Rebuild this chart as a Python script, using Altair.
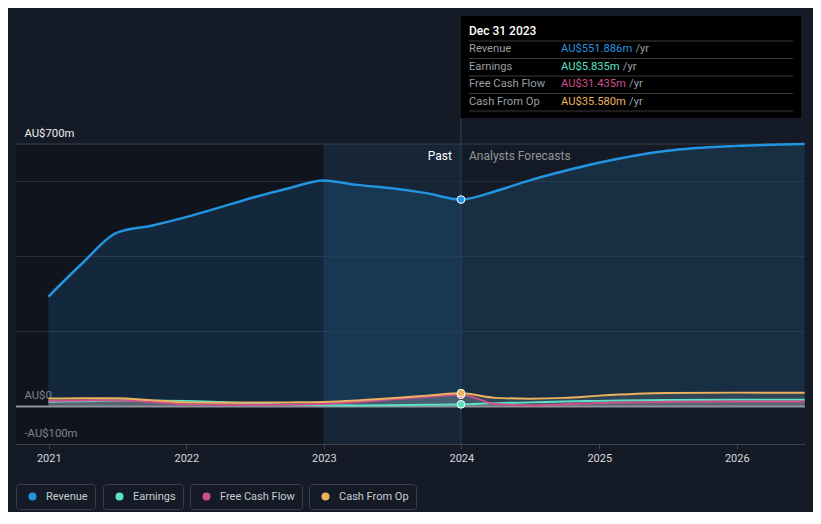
import altair as alt
import pandas as pd

# ---------------- data ----------------
SERIES = ["Revenue", "Earnings", "Free Cash Flow", "Cash From Op"]
COLORS = ["#2394df", "#5ce1c6", "#cf4f8c", "#edb25e"]

PAST_DATES = ["2020-12-31", "2021-03-31", "2021-06-30", "2021-09-30", "2021-12-31",
              "2022-03-31", "2022-06-30", "2022-09-30", "2022-12-31", "2023-03-31",
              "2023-06-30", "2023-09-30", "2023-12-31"]
FORECAST_DATES = ["2024-03-31", "2024-06-30", "2024-09-30", "2024-12-31",
                  "2025-06-30", "2025-12-31", "2026-06-30"]

REVENUE_PAST = [293, 382, 463, 482, 505, 531, 558, 582, 603, 591, 582, 569, 551.886]
REVENUE_FC = [574, 603, 628, 650, 682, 695, 700]
EARNINGS_PAST = [12.5, 14, 16, 15.5, 15, 12, 8, 5, 3.5, 3, 3.5, 4.5, 5.835]
EARNINGS_FC = [9, 11, 13.5, 15, 17.5, 18, 18]
FCF_PAST = [15, 16, 17, 12, 6, 5, 5, 5.5, 6.5, 12, 19, 25, 31.435]
FCF_FC = [7, 3, 6, 9.5, 12.5, 13.5, 13.5]
CFO_PAST = [21, 22, 22, 17, 11, 10, 10.5, 11, 12, 16, 22, 29, 35.58]
CFO_FC = [23, 21, 23, 29, 36, 37, 37]

TOOLTIP_DATE = "2023-12-31"
TOOLTIP_TITLE = "Dec 31 2023"
UNIT_SUFFIX = "/yr"
PAST_LABEL = "Past"
FORECAST_LABEL = "Analysts Forecasts"

Y_TICKS = [-100, 0, 700]
Y_TICK_LABELS = ["-AU$100m", "AU$0", "AU$700m"]
GRID_VALUES = [200, 400, 600]
TOP_VALUE = [700]
ZERO_VALUE = [0]

BAND_DARK = {"start": ["2020-10-06"], "end": ["2022-12-31"]}
BAND_LIGHT = {"start": ["2022-12-31"], "end": ["2023-12-31"]}

# ---------------- tables ----------------
dates = PAST_DATES + FORECAST_DATES
series_vals = [REVENUE_PAST + REVENUE_FC, EARNINGS_PAST + EARNINGS_FC,
               FCF_PAST + FCF_FC, CFO_PAST + CFO_FC]
rows = []
for s, vals in zip(SERIES, series_vals):
    for d, v in zip(dates, vals):
        rows.append({"date": d, "series": s, "value": v})
df = pd.DataFrame(rows)
pts = df[df["date"] == TOOLTIP_DATE].reset_index(drop=True)

ty, tm, tdd = map(int, TOOLTIP_DATE.split("-"))
TT_DT = alt.DateTime(year=ty, month=tm, date=tdd, utc=True)

# approximate Roboto advance widths (em) for placing the unit after a value
_W = {"A": .677, "U": .652, "$": .561, ".": .263, "m": .876, " ": .248}
FS_TT = 11.2


def text_width(s, fs):
    return sum(_W.get(ch, .561) for ch in s) * fs


# ---------------- scales / axes ----------------
X_SCALE = alt.Scale(domain=[alt.DateTime(year=2020, month=10, date=6, utc=True),
                            alt.DateTime(year=2026, month=7, date=1, utc=True)])
X_AXIS = alt.Axis(title=None, format="%Y", tickCount="year", grid=False,
                  labelColor="#d5d8dd", labelFontSize=11, labelPadding=3,
                  tickColor="#3c424d", tickSize=5, domainColor="#3c424d",
                  labelFlush=False)
label_expr = " : ".join(
    f"datum.value == {v} ? '{t}'" for v, t in zip(Y_TICKS, Y_TICK_LABELS)
) + " : ''"
Y_SCALE = alt.Scale(domain=[-100, 700], nice=False, zero=False)
Y_AXIS = alt.Axis(title=None, values=Y_TICKS, labelExpr=label_expr, grid=False,
                  domain=False, ticks=False, tickSize=0, labelAlign="left",
                  labelBaseline="alphabetic", labelPadding=-8, labelOffset=-8,
                  labelColor="#eceef0", labelFontSize=11.3, labelFlush=False,
                  labelOverlap=False)


def X(field):
    return alt.X(field, scale=X_SCALE, axis=X_AXIS, title=None)


def XD():
    return alt.X(datum=TT_DT, scale=X_SCALE, axis=X_AXIS, title=None)


def Y(field):
    return alt.Y(field, scale=Y_SCALE, axis=Y_AXIS, title=None, stack=None)


def YD(v):
    return alt.Y(datum=v, scale=Y_SCALE, axis=Y_AXIS, title=None)


LEGEND_X = [0, 87, 174, 293]


def legend_box(i):
    return alt.Legend(title=None, orient="none", legendX=LEGEND_X[i], legendY=340,
                      direction="horizontal", symbolType="circle", symbolSize=64,
                      symbolStrokeWidth=0, symbolOffset=4, labelColor="#c8cbd0",
                      labelFontSize=11, labelOffset=8, padding=7,
                      strokeColor="#3a3f49", cornerRadius=3)


# ---------------- layers ----------------
dark = alt.Chart(pd.DataFrame(BAND_DARK)).mark_rect(color="#0b0e13", opacity=0.5).encode(
    x=X("start:T"), x2="end:T", y=YD(700), y2=alt.Y2(datum=-100))
light = alt.Chart(pd.DataFrame(BAND_LIGHT)).mark_rect(color="#1e6aa0", opacity=0.14).encode(
    x=X("start:T"), x2="end:T", y=YD(700), y2=alt.Y2(datum=-100))

grid = alt.Chart(pd.DataFrame({"v": GRID_VALUES})).mark_rule(color="#252c38", strokeWidth=1).encode(
    y=Y("v:Q"))
top = alt.Chart(pd.DataFrame({"v": TOP_VALUE})).mark_rule(color="#3b414b", strokeWidth=1).encode(
    y=Y("v:Q"))

rev = df[df["series"] == "Revenue"]
small = df[df["series"] != "Revenue"]

rev_area = alt.Chart(rev).mark_area(color=COLORS[0], opacity=0.16, interpolate="monotone").encode(
    x=X("date:T"), y=Y("value:Q"))
small_area = alt.Chart(small).mark_area(color="#a0a4ab", opacity=0.2, interpolate="monotone").encode(
    x=X("date:T"), y=Y("value:Q"), detail="series:N")

zero = alt.Chart(pd.DataFrame({"v": ZERO_VALUE})).mark_rule(color="#8d9199", strokeWidth=2).encode(
    y=Y("v:Q"))

line_layers = []
for s, c in zip(SERIES, COLORS):
    sub = df[df["series"] == s]
    w = 2.5 if s == "Revenue" else 2
    line_layers.append(
        alt.Chart(sub).mark_line(color=c, strokeWidth=w, interpolate="monotone").encode(
            x=X("date:T"), y=Y("value:Q"))
    )

vline = alt.Chart(pd.DataFrame({"date": [TOOLTIP_DATE]})).mark_rule(
    color="#2b4058", strokeWidth=1).encode(x=X("date:T"), y=alt.value(-26), y2=alt.value(300))

# end-of-history points; each one also carries its own boxed legend entry
point_layers = []
for i, (s, c) in enumerate(zip(SERIES, COLORS)):
    p = pts[pts["series"] == s]
    if i == 0:
        enc = dict(color=alt.Color("series:N", scale=alt.Scale(domain=[s], range=[c]),
                                   legend=legend_box(i)))
        mk = alt.Chart(p).mark_circle(size=60, opacity=1, stroke="#ffffff", strokeWidth=1)
    elif i == 1:
        enc = dict(opacity=alt.Opacity("series:N", scale=alt.Scale(domain=[s], range=[1]),
                                       legend=legend_box(i)))
        mk = alt.Chart(p).mark_circle(size=60, color=c, stroke="#ffffff", strokeWidth=1)
    elif i == 2:
        enc = dict(fill=alt.Fill("series:N", scale=alt.Scale(domain=[s], range=[c]),
                                 legend=legend_box(i)))
        mk = alt.Chart(p).mark_circle(size=60, opacity=1, stroke="#ffffff", strokeWidth=1)
    else:
        enc = dict(shape=alt.Shape("series:N", scale=alt.Scale(domain=[s], range=["circle"]),
                                   legend=legend_box(i)))
        mk = alt.Chart(p).mark_point(filled=True, size=60, color=c, opacity=1,
                                     stroke="#ffffff", strokeWidth=1)
    point_layers.append(mk.encode(x=X("date:T"), y=Y("value:Q"), **enc))

one = pd.DataFrame({"date": [TOOLTIP_DATE]})
past_txt = alt.Chart(one).mark_text(text=PAST_LABEL, align="right", dx=-9, baseline="middle",
                                    color="#ffffff", fontSize=12).encode(
    x=X("date:T"), y=alt.value(12))
fc_txt = alt.Chart(one).mark_text(text=FORECAST_LABEL, align="left", dx=8, baseline="middle",
                                  color="#8f959c", fontSize=12).encode(
    x=X("date:T"), y=alt.value(12))

# tooltip panel
tt_box = alt.Chart(one).mark_rect(color="#000000").encode(
    x=X("date:T"), x2=alt.value(785), y=alt.value(-128), y2=alt.value(-26))
tt_head = alt.Chart(one).mark_text(text=TOOLTIP_TITLE, align="left", dx=8, baseline="middle",
                                   color="#ffffff", fontSize=12, fontWeight=500).encode(
    x=X("date:T"), y=alt.value(-113))
tt_sep = alt.Chart(alt.sequence(0, 5, as_="k")).transform_calculate(
    sy="-103 + datum.k * 17.5").mark_rule(color="#3a3a3a", strokeWidth=1, xOffset=8).encode(
    x=XD(), x2=alt.value(777), y=alt.Y("sy:Q", scale=None))

tt_layers = []
for i, (s, c) in enumerate(zip(SERIES, COLORS)):
    v = float(pts.loc[pts["series"] == s, "value"].iloc[0])
    val = f"AU${v:.3f}m"
    row = pd.DataFrame({"date": [TOOLTIP_DATE], "label": [s], "val": [val],
                        "unit": [UNIT_SUFFIX], "idx": [i]})
    base = alt.Chart(row).transform_calculate(ty="-95 + datum.idx * 17.5")
    enc = dict(x=X("date:T"), y=alt.Y("ty:Q", scale=None))
    tt_layers.append(base.mark_text(align="left", dx=8, baseline="middle", fontSize=FS_TT,
                                    color="#9b9ea3").encode(text="label:N", **enc))
    tt_layers.append(base.mark_text(align="left", dx=100, baseline="middle", fontSize=FS_TT,
                                    color=c).encode(text="val:N", **enc))
    tt_layers.append(base.mark_text(align="left",
                                    dx=100 + text_width(val + " ", FS_TT),
                                    baseline="middle", fontSize=FS_TT,
                                    color="#9b9ea3").encode(text="unit:N", **enc))

chart = alt.layer(
    dark, light, grid, top, rev_area, small_area, zero, *line_layers,
    vline, *point_layers, past_txt, fc_txt, tt_box, tt_head, tt_sep, *tt_layers
).properties(
    width=789, height=300,
    padding={"left": 8, "top": 136, "right": 8, "bottom": 68},
    autosize=alt.AutoSizeParams(type="none"),
).configure(
    background="#151b26", font="Roboto"
).configure_view(stroke=None)

chart.save("out.html", embed_options={"renderer": "svg", "actions": False})
